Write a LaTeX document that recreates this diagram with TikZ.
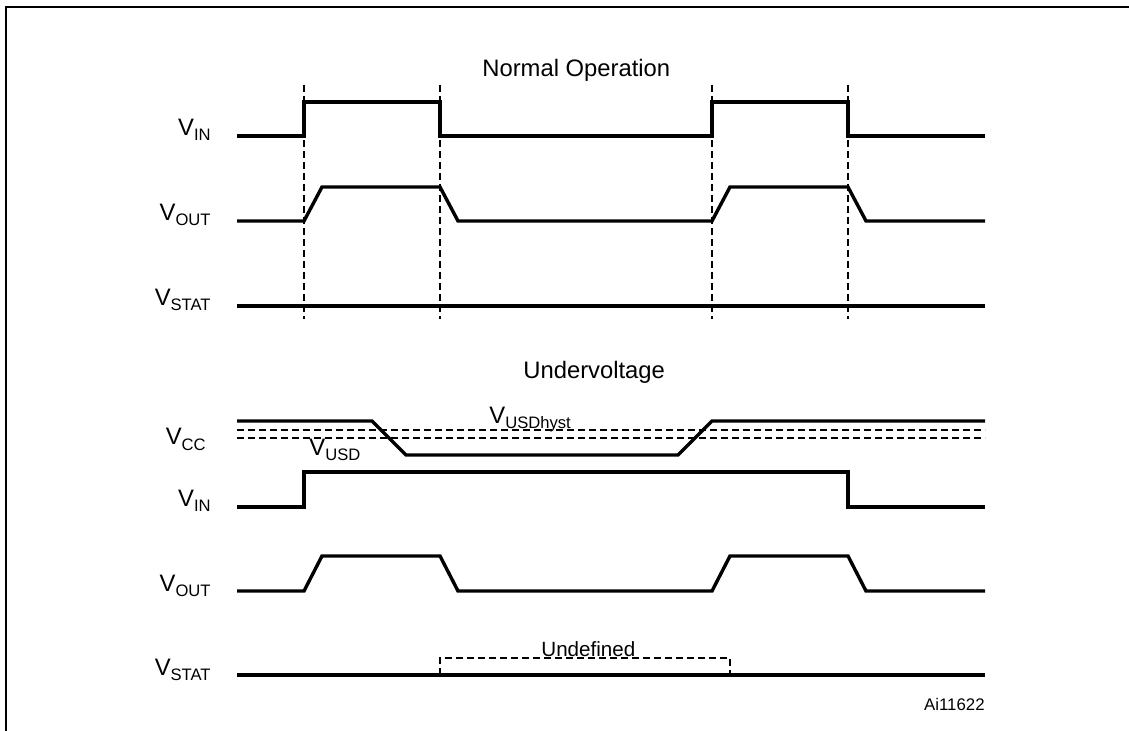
\documentclass[tikz,border=0pt]{standalone}
\usepackage{fontspec}
\setmainfont{Liberation Sans}
\usepackage{tikz}
\usetikzlibrary{positioning}
\newcommand{\vsub}[1]{V\raisebox{-2.5pt}{\fontsize{8.3}{9}\selectfont #1}}
\tikzset{
  signal/.style={
      line width=1.7pt,
      line join=miter
  },
  guide/.style={
      line width=0.6pt,
      dash pattern=on 3.5pt off 2pt
  },
  signame/.style={
      anchor=base east,
      inner sep=0pt,
      font=\fontsize{11.9}{14}\selectfont
  },
  caption/.style={
      anchor=base west,
      inner sep=0pt,
      font=\fontsize{11.9}{14}\selectfont
  }
}
\begin{document}
\begin{tikzpicture}[x=0.5pt,y=-0.5pt]
    \useasboundingbox (0,0) rectangle (1129,731);
    \draw[line width=1pt] (1129,7) -- (6,7) -- (6,731);
    % normal operation
    \node[caption] (normal) at (482,77) {Normal Operation};
    \foreach \x in {304,440,712,848}
      \draw[guide] (\x,85) -- (\x,319);
    \node[signame] (vin1) at (211,136) {\vsub{IN}};
    \node[signame] (vout1) at (211,221) {\vsub{OUT}};
    \node[signame] (vstat1) at (211,306) {\vsub{STAT}};
    \draw[signal] (237,136) -- (304,136) -- (304,102) -- (440,102) -- (440,136)
      -- (712,136) -- (712,102) -- (848,102) -- (848,136) -- (985,136);
    \draw[signal] (237,221) -- (304,221) -- (322,187) -- (440,187) -- (458,221)
      -- (712,221) -- (730,187) -- (848,187) -- (866,221) -- (985,221);
    \draw[signal] (237,306) -- (985,306);
    % undervoltage
    \node[caption] (under) at (523,379) {Undervoltage};
    \node[signame] (vcc) at (206,445) {\vsub{CC}};
    \node[signame] (vin2) at (211,507) {\vsub{IN}};
    \node[signame] (vout2) at (211,591) {\vsub{OUT}};
    \node[signame] (vstat2) at (211,675) {\vsub{STAT}};
    \draw[guide] (237,430) -- (985,430);
    \draw[guide] (237,438) -- (985,438);
    \node[caption] (hyst) at (489,424) {\vsub{USDhyst}};
    \node[caption] (usd) at (309,456) {\vsub{USD}};
    \draw[signal] (237,421) -- (372,421) -- (406,455) -- (678,455) -- (712,421) -- (985,421);
    \draw[signal] (237,507) -- (304,507) -- (304,472) -- (848,472) -- (848,507) -- (985,507);
    \draw[signal] (237,591) -- (304,591) -- (322,556) -- (440,556) -- (458,591)
      -- (712,591) -- (730,556) -- (848,556) -- (866,591) -- (985,591);
    \draw[signal] (237,675) -- (985,675);
    \draw[guide] (440,675) -- (440,658) -- (730,658) -- (730,675);
    \node[caption,font=\fontsize{10.3}{12}\selectfont] (undef) at (541,656) {Undefined};
    \node[signame,font=\fontsize{8.4}{10}\selectfont] (code) at (985,710) {Ai11622};
\end{tikzpicture}
\end{document}
